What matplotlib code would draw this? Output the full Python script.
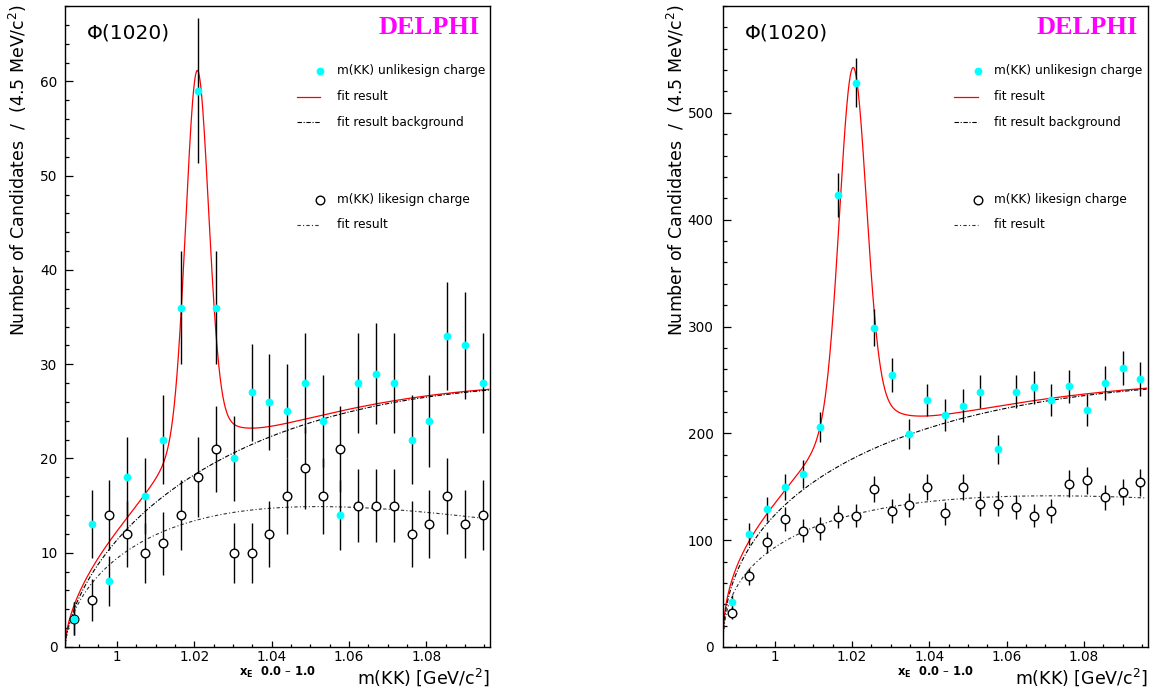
import numpy as np
import matplotlib
matplotlib.use("Agg")
import matplotlib.pyplot as plt
from matplotlib.lines import Line2D
from matplotlib.ticker import FixedLocator, FixedFormatter, MultipleLocator

plt.rcParams['font.family'] = ['DejaVu Sans']
plt.rcParams['mathtext.fontset'] = 'dejavusans'

# ---------------- data ----------------
mass = [0.9888, 0.9934, 0.9980, 1.0026, 1.0072, 1.0118, 1.0164, 1.0210,
        1.0256, 1.0302, 1.0348, 1.0394, 1.0440, 1.0486, 1.0532, 1.0578,
        1.0624, 1.0670, 1.0716, 1.0762, 1.0808, 1.0854, 1.0900, 1.0946]

left_unlike = [3, 13, 7, 18, 16, 22, 36, 59, 36, 20, 27, 26,
               25, 28, 24, 14, 28, 29, 28, 22, 24, 33, 32, 28]
left_like = [3, 5, 14, 12, 10, 11, 14, 18, 21, 10, 10, 12,
             16, 19, 16, 21, 15, 15, 15, 12, 13, 16, 13, 14]

right_unlike = [42, 106, 129, 150, 162, 206, 423, 528, 299, 255, 199, 231,
                217, 226, 239, 185, 239, 243, 231, 244, 222, 247, 261, 251]
right_like = [32, 66, 98, 120, 109, 111, 122, 123, 148, 127, 133, 150,
              125, 150, 134, 134, 131, 123, 127, 153, 156, 140, 145, 154]

x_ticks = [1.00, 1.02, 1.04, 1.06, 1.08]
x_ticklabels = ["1", "1.02", "1.04", "1.06", "1.08"]
left_yticks = [0, 10, 20, 30, 40, 50, 60]
right_yticks = [0, 100, 200, 300, 400, 500]

# fit parameters: background = A * d**p * exp(-c*d), d = m - threshold
threshold = 0.9866
left_bg = (171.0, 0.615, 4.35)
left_like_fit = (129.4, 0.58, 8.87)
right_bg = (891.0, 0.449, 2.86)
right_like_fit = (596.0, 0.415, 4.88)
# signal: (mu, gauss amplitude, sigma, lorentz amplitude, gamma)
left_sig = (1.0207, 36.4, 0.0029, 6.3, 0.0087)
right_sig = (1.0202, 301.0, 0.0034, 65.0, 0.0090)

CYAN = '#00ffff'

fig = plt.figure(figsize=(11.53, 6.92), dpi=100)
W, H = 1153.0, 692.0


def bgfun(m, par):
    A, p, c = par
    d = np.clip(m - threshold, 0, None)
    return A * d ** p * np.exp(-c * d)


def sigfun(m, par):
    mu, ag, s, al, g = par
    return ag * np.exp(-0.5 * ((m - mu) / s) ** 2) + al / (1 + ((m - mu) / g) ** 2)


def panel(left_px, unlike, like, bg, likefit, sig, yticks, ylim, yminor, ylabpad):
    ax = fig.add_axes([left_px / W, 1 - 647 / H, 425 / W, 641 / H])
    x = np.array(mass)
    u = np.array(unlike, dtype=float)
    l = np.array(like, dtype=float)
    m = np.linspace(threshold, 1.0962, 1200)
    b = bgfun(m, bg)
    ax.plot(m, b + sigfun(m, sig), color='red', lw=0.9, zorder=2)
    ax.plot(m, b, color='black', lw=0.8, dashes=[4, 1.5, 1, 1.5], zorder=2)
    ax.plot(m, bgfun(m, likefit), color='#333333', lw=0.8, dashes=[3, 2, 1, 2], zorder=2)

    ax.errorbar(x, l, yerr=np.sqrt(l), fmt='none', ecolor='black', elinewidth=1.0, zorder=3)
    ax.plot(x, l, 'o', ms=6.2, mfc='white', mec='black', mew=1.0, zorder=4)
    ax.errorbar(x, u, yerr=np.sqrt(u), fmt='none', ecolor='black', elinewidth=1.0, zorder=5)
    ax.plot(x, u, 'o', ms=5.6, mfc=CYAN, mec=CYAN, mew=0, zorder=6)

    ax.set_xlim(0.9865, 1.0965)
    ax.set_ylim(*ylim)
    ax.xaxis.set_major_locator(FixedLocator(x_ticks))
    ax.xaxis.set_major_formatter(FixedFormatter(x_ticklabels))
    ax.xaxis.set_minor_locator(MultipleLocator(0.005))
    ax.yaxis.set_major_locator(FixedLocator(yticks))
    ax.yaxis.set_minor_locator(MultipleLocator(yminor))
    ax.tick_params(which='both', direction='in', top=False, right=False, labelsize=9.8)
    ax.tick_params(axis='y', which='major', length=5.8, width=0.9, pad=ylabpad)
    ax.tick_params(axis='y', which='minor', length=2.9, width=0.9)
    ax.tick_params(axis='x', which='major', length=4.5, width=0.9, pad=2.4)
    ax.tick_params(axis='x', which='minor', length=2.3, width=0.9)
    for sp in ax.spines.values():
        sp.set_linewidth(1.0)

    ax.set_ylabel("Number of Candidates  /  (4.5 MeV/c$^2$)", fontsize=12.5, loc='top')
    ax.yaxis.label.set_verticalalignment('center')
    ax.yaxis.set_label_coords(-47 / 425, 1.003)
    ax.set_xlabel("m(KK) [GeV/c$^2$]", fontsize=12.5, loc='right')
    ax.xaxis.label.set_verticalalignment('center')
    ax.xaxis.set_label_coords(1.0, -30 / 641)

    ax.text(0.052, 0.958, "\u03a6(1020)", transform=ax.transAxes, fontsize=14.5,
            ha='left', va='center')
    ax.text(0.977, 0.966, "DELPHI", transform=ax.transAxes, fontsize=19,
            family='Liberation Serif', weight='bold', color='#ff00ff', ha='right', va='center')
    ax.text(0.41, -25 / 641, r"$\mathbf{x_{E}}$  0.0 " + "\u2013" + " 1.0",
            transform=ax.transAxes, fontsize=8.3, weight='bold', ha='left', va='center')

    # legend (drawn by hand, ROOT style)
    xm, x0, xt = 0.60, 0.545, 0.639
    rows = [0.899, 0.8585, 0.819, 0.698, 0.659]
    ax.plot([xm], [rows[0]], 'o', ms=5.6, mfc=CYAN, mec=CYAN, mew=0,
            transform=ax.transAxes, clip_on=False)
    ax.add_line(Line2D([x0, xm], [rows[1]] * 2, color='red', lw=0.9, transform=ax.transAxes))
    ax.add_line(Line2D([x0, xm], [rows[2]] * 2, color='black', lw=0.8, dashes=[4, 1.5, 1, 1.5],
                       transform=ax.transAxes))
    ax.plot([xm], [rows[3]], 'o', ms=6.2, mfc='white', mec='black', mew=1.0,
            transform=ax.transAxes, clip_on=False)
    ax.add_line(Line2D([x0, xm], [rows[4]] * 2, color='#333333', lw=0.8, dashes=[3, 2, 1, 2],
                       transform=ax.transAxes))
    texts = ["m(KK) unlikesign charge", "fit result", "fit result background",
             "m(KK) likesign charge", "fit result"]
    for t, r in zip(texts, rows):
        ax.text(xt, r, t, transform=ax.transAxes, fontsize=8.7, ha='left', va='center')
    return ax


panel(65, left_unlike, left_like, left_bg, left_like_fit, left_sig,
      left_yticks, (0, 68), 2, 5.5)
panel(722.7, right_unlike, right_like, right_bg, right_like_fit, right_sig,
      right_yticks, (0, 600), 20, 6.5)

fig.savefig("out.png", dpi=100)
